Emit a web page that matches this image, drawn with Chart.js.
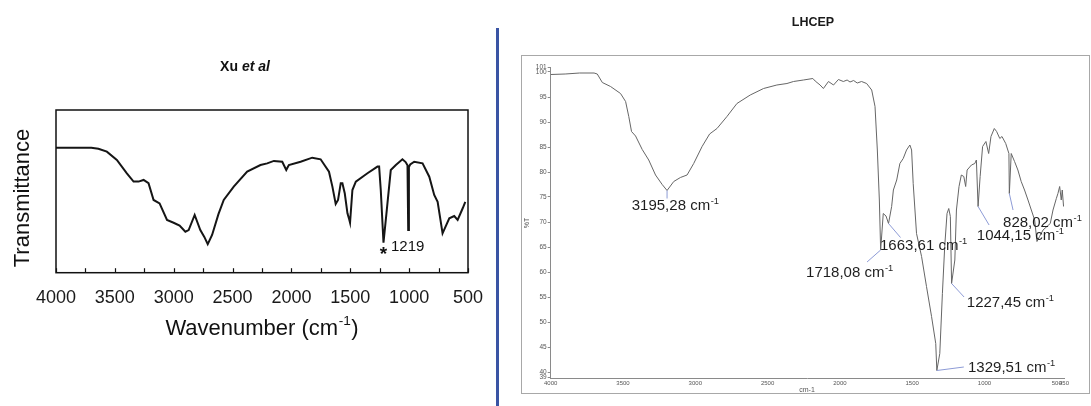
<!DOCTYPE html>
<html><head><meta charset="utf-8">
<script src="https://cdn.jsdelivr.net/npm/chart.js@4.4.1/dist/chart.umd.min.js"></script>
<style>
html,body{margin:0;padding:0;background:#fff;}
#wrap{position:relative;width:1091px;height:406px;overflow:hidden;background:#fff;}
#c1{position:absolute;left:0;top:0;}
#c2{position:absolute;left:500px;top:0;}
#divider{position:absolute;left:495.5px;top:28px;width:3px;height:378px;background:#3a54a4;}
</style></head><body>
<div id="wrap">
<canvas id="c1" width="494" height="406"></canvas>
<div id="divider"></div>
<canvas id="c2" width="591" height="406"></canvas>
</div>
<script>
// ---------- Left panel: Xu et al ----------
const leftWavenumber = [4000,3850,3700,3640,3568,3483,3398,3341,3299,3256,3214,3171,3120,3057,3001,2950,2901,2873,2822,2774,2740,2711,2674,2620,2575,2490,2376,2263,2206,2149,2078,2044,2022,1922,1823,1752,1681,1652,1624,1604,1581,1567,1547,1524,1510,1502,1482,1453,1354,1269,1255,1241,1218,1190,1156,1113,1057,1030,1014,1008,1002,991,957,886,829,787,758,716,659,617,588,545,523];
const leftTransmittance = [76.8,76.8,76.8,76.2,74.4,69.3,61.1,56,56,57,55,44.7,42.6,32.4,30.7,29,25.2,26.2,35.5,26.2,22,17.6,23.2,36,44.7,52.9,62.1,66.2,67.2,68.7,68.2,63.1,66.2,68.2,70.7,69.7,62.1,52.9,42.2,44.7,55,55,48.8,36.5,33,30.7,50.8,56,61.1,65.2,65.2,50.8,18.4,38.5,63.1,66.2,69.7,68,66,26.2,65,66.5,68.2,67.2,59,47.8,43.6,24.2,33.4,34.8,32.4,39.6,43.6];
const leftXTicks = [4000,3500,3000,2500,2000,1500,1000,500];
const leftMarkedPeak = 1218;
const leftMarkedLabel = '1219';

// ---------- Right panel: LHCEP ----------
const rightWavenumber = [4000,3900,3800,3700,3678,3643,3586,3517,3482,3460,3441,3413,3367,3322,3275,3229,3195.28,3149,3103,3057,3011,2953,2901,2850,2781,2712,2620,2528,2436,2366,2321,2252,2187,2171,2137,2114,2079,2044,2010,1976,1950,1930,1905,1880,1850,1815,1780,1757,1741,1727,1718.08,1700,1681,1663.61,1642,1630,1607,1585,1562,1539,1516,1504,1493,1470,1435,1401,1366,1337,1329.51,1309,1291,1275,1259,1247,1236,1227.45,1205,1194,1176,1160,1143,1130,1120,1090,1067,1056,1044.15,1030,1013,990,971,955,932,916,894,879,853,831,828.02,815,792,769,746,723,699,676,653,637,619,595,568,545,526,503,492,480,469,462,453];
const rightTransmittance = [99.5,99.6,99.8,99.8,99.6,97.9,97.1,95.7,94.1,91.1,88.1,87.2,84.5,82.4,79.4,77.5,76.3,78.1,78.9,79.4,81.7,85.1,87.6,88.7,91.1,93.7,95.4,96.7,97.4,97.7,98.1,98.4,98.7,98.2,97.4,96.7,98.1,97.4,98.5,98.1,98.4,98.0,98.3,97.8,98.1,97.7,96.4,93.1,84.4,74.4,64.4,71.7,71.2,69.7,73.1,76.4,78.4,81.7,82.7,84.4,85.4,84.4,77.7,67.7,63.1,57.1,51.1,45.7,40.3,43.7,55.7,65.1,71.7,72.7,71.1,57.7,62.4,72.4,77.1,79.4,79.1,77.1,80.4,81.4,81.7,82.4,73.1,79.1,85.1,86.1,83.7,87.1,88.7,88.1,86.7,87.1,85.7,83.7,75.7,83.7,82.1,80.4,78.1,76.4,74.4,72.4,70.4,66.1,67.1,68.4,69.1,69.7,72.4,74.7,75.7,77.1,74.4,76.4,73.1];
const rightXTicks = [4000,3500,3000,2500,2000,1500,1000,500,450];
const rightYTicks = [39,40,45,50,55,60,65,70,75,80,85,90,95,100,101];
const rightPeakWavenumber = [3195.28,1718.08,1663.61,1329.51,1227.45,1044.15,828.02];
const rightPeakLabels = ['3195,28','1718,08','1663,61','1329,51','1227,45','1044,15','828,02'];

const FONT = '"Liberation Sans", Arial, Helvetica, sans-serif';

function drawSup(ctx, base, sup, x, yBase, size, color){
  ctx.fillStyle = color;
  ctx.textAlign = 'left';
  ctx.textBaseline = 'alphabetic';
  ctx.font = size + 'px ' + FONT;
  ctx.fillText(base, x, yBase);
  const w = ctx.measureText(base).width;
  const s2 = size * 0.62;
  ctx.font = s2 + 'px ' + FONT;
  ctx.fillText(sup, x + w + 0.5, yBase - size * 0.42);
  return w + 0.5 + ctx.measureText(sup).width;
}

// ---- left chart ----
const leftPlugin = {
  id: 'leftDeco',
  afterDraw(chart){
    const {ctx, chartArea: a, scales: {x, y}} = chart;
    ctx.save();
    ctx.strokeStyle = '#111'; ctx.lineWidth = 1.5;
    ctx.strokeRect(a.left, a.top, a.right - a.left, a.bottom - a.top);
    ctx.lineWidth = 1.2;
    for (let v = 500; v <= 4000; v += 250) {
      const px = Math.round(x.getPixelForValue(v)) + 0.5;
      ctx.beginPath(); ctx.moveTo(px, a.bottom); ctx.lineTo(px, a.bottom - 4.5); ctx.stroke();
    }
    ctx.fillStyle = '#111'; ctx.textBaseline = 'middle';
    ctx.font = 'bold 14px ' + FONT;
    const t1 = 'Xu '; const w1 = ctx.measureText(t1).width;
    ctx.font = 'italic bold 14px ' + FONT;
    const t2 = 'et al'; const w2 = ctx.measureText(t2).width;
    const sx = 245 - (w1 + w2) / 2;
    ctx.textAlign = 'left';
    ctx.font = 'bold 14px ' + FONT; ctx.fillText(t1, sx, 67);
    ctx.font = 'italic bold 14px ' + FONT; ctx.fillText(t2, sx + w1, 67);
    ctx.font = '22px ' + FONT;
    const base = 'Wavenumber (cm';
    const wb = ctx.measureText(base).width;
    ctx.font = (22 * 0.62) + 'px ' + FONT;
    const ws = ctx.measureText('-1').width;
    ctx.font = '22px ' + FONT;
    const wc = ctx.measureText(')').width;
    const tot = wb + ws + 1 + wc;
    const xs = 262 - tot / 2;
    const wd = drawSup(ctx, base, '-1', xs, 334.5, 22, '#111');
    ctx.font = '22px ' + FONT; ctx.fillText(')', xs + wd + 0.5, 334.5);
    ctx.save();
    ctx.translate(29, 198); ctx.rotate(-Math.PI / 2);
    ctx.textAlign = 'center'; ctx.textBaseline = 'alphabetic';
    ctx.font = '22px ' + FONT; ctx.fillStyle = '#111';
    ctx.fillText('Transmittance', 0, 0);
    ctx.restore();
    const i = leftWavenumber.indexOf(leftMarkedPeak);
    const px = x.getPixelForValue(leftMarkedPeak), py = y.getPixelForValue(leftTransmittance[i]);
    ctx.textAlign = 'center'; ctx.textBaseline = 'alphabetic';
    ctx.font = 'bold 19px ' + FONT; ctx.fillStyle = '#111';
    ctx.fillText('*', px, py + 17);
    ctx.textAlign = 'left';
    ctx.font = '15px ' + FONT;
    ctx.fillText(leftMarkedLabel, px + 7.5, py + 8);
    ctx.restore();
  }
};

new Chart(document.getElementById('c1'), {
  type: 'line',
  data: { datasets: [{
    data: leftWavenumber.map((w, i) => ({x: w, y: leftTransmittance[i]})),
    borderColor: '#151515', borderWidth: 2, pointRadius: 0, tension: 0, fill: false
  }]},
  options: {
    responsive: false, animation: false, devicePixelRatio: 1,
    layout: {padding: {left: 0, top: 110, right: 494 - 468, bottom: 0}},
    plugins: {legend: {display: false}, tooltip: {enabled: false}, title: {display: false}},
    scales: {
      x: {type: 'linear', reverse: true, min: 500, max: 4000,
          afterBuildTicks: s => { s.ticks = leftXTicks.map(v => ({value: v})); },
          afterFit: s => { s.height = 406 - 272.7; s.paddingLeft = 0; s.paddingRight = 0; },
          ticks: {font: {family: FONT, size: 18}, color: '#1a1a1a', padding: 15, autoSkip: false, maxRotation: 0, callback: v => String(v)},
          grid: {display: false, drawTicks: false}, border: {display: false}},
      y: {type: 'linear', min: 0, max: 100,
          afterFit: s => { s.width = 56; s.paddingTop = 0; s.paddingBottom = 0; },
          ticks: {display: false}, grid: {display: false, drawTicks: false}, border: {display: false}}
    }
  },
  plugins: [leftPlugin]
});

// ---- right chart ----
const rightPlugin = {
  id: 'rightDeco',
  beforeDraw(chart){
    const ctx = chart.ctx;
    ctx.save();
    ctx.strokeStyle = '#a8a8a8'; ctx.lineWidth = 1;
    ctx.strokeRect(21.5, 55.5, 568, 338);
    ctx.restore();
  },
  afterDraw(chart){
    const {ctx, chartArea: a, scales: {x, y}} = chart;
    ctx.save();
    ctx.fillStyle = '#1a1a1a'; ctx.textAlign = 'center'; ctx.textBaseline = 'middle';
    ctx.font = 'bold 12.5px ' + FONT;
    ctx.fillText('LHCEP', 313, 23);
    ctx.font = '7px ' + FONT; ctx.fillStyle = '#555';
    ctx.fillText('cm-1', 307, 390.5);
    ctx.save(); ctx.translate(27.5, 223); ctx.rotate(-Math.PI / 2);
    ctx.fillText('%T', 0, 0); ctx.restore();
    const offs = [
      {lx: 0, ly: 8, tx: -35.3, ty: 14.5},
      {lx: -13.6, ly: 12, tx: -74.6, ty: 21.7},
      {lx: 12, ly: 14, tx: -8.5, ty: 21.5},
      {lx: 27, ly: -3.5, tx: 31.2, ty: -3.8},
      {lx: 12.5, ly: 13.5, tx: 15.2, ty: 18.2},
      {lx: 11, ly: 18.5, tx: -1.3, ty: 28.5},
      {lx: 3.7, ly: 16.5, tx: -6.3, ty: 28.2}
    ];
    rightPeakWavenumber.forEach((w, k) => {
      const i = rightWavenumber.indexOf(w);
      const px = x.getPixelForValue(w), py = y.getPixelForValue(rightTransmittance[i]);
      const o = offs[k];
      ctx.strokeStyle = '#8d9bd6'; ctx.lineWidth = 1;
      ctx.beginPath(); ctx.moveTo(px, py); ctx.lineTo(px + o.lx, py + o.ly); ctx.stroke();
      drawSup(ctx, rightPeakLabels[k] + ' cm', '-1', px + o.tx, py + o.ty + 5.4, 15, '#1e1e1e');
    });
    ctx.restore();
  }
};

new Chart(document.getElementById('c2'), {
  type: 'line',
  data: { datasets: [{
    data: rightWavenumber.map((w, i) => ({x: w, y: rightTransmittance[i]})),
    borderColor: '#666666', borderWidth: 1, pointRadius: 0, tension: 0, fill: false
  }]},
  options: {
    responsive: false, animation: false, devicePixelRatio: 1,
    layout: {padding: {left: 0, top: 67, right: 591 - 564, bottom: 0}},
    plugins: {legend: {display: false}, tooltip: {enabled: false}, title: {display: false}},
    scales: {
      x: {type: 'linear', reverse: true, min: 450, max: 4000,
          afterBuildTicks: s => { s.ticks = rightXTicks.map(v => ({value: v})); },
          afterFit: s => { s.height = 406 - 378; s.paddingLeft = 0; s.paddingRight = 0; },
          ticks: {font: {family: FONT, size: 6}, color: '#555', padding: 1.5, autoSkip: false, maxRotation: 0, callback: v => String(v)},
          grid: {display: false, drawTicks: false},
          border: {display: true, color: '#8a8a8a', width: 1}},
      y: {type: 'linear', min: 38.8, max: 101,
          afterBuildTicks: s => { s.ticks = rightYTicks.map(v => ({value: v})); },
          afterFit: s => { s.width = 50.7; s.paddingTop = 0; s.paddingBottom = 0; },
          ticks: {font: {family: FONT, size: 6.5}, color: '#555', padding: 1, autoSkip: false, callback: v => String(v)},
          grid: {drawOnChartArea: false, drawTicks: true, tickLength: 3, color: '#8a8a8a'},
          border: {display: true, color: '#8a8a8a', width: 1}}
    }
  },
  plugins: [rightPlugin]
});
</script>
</body></html>
